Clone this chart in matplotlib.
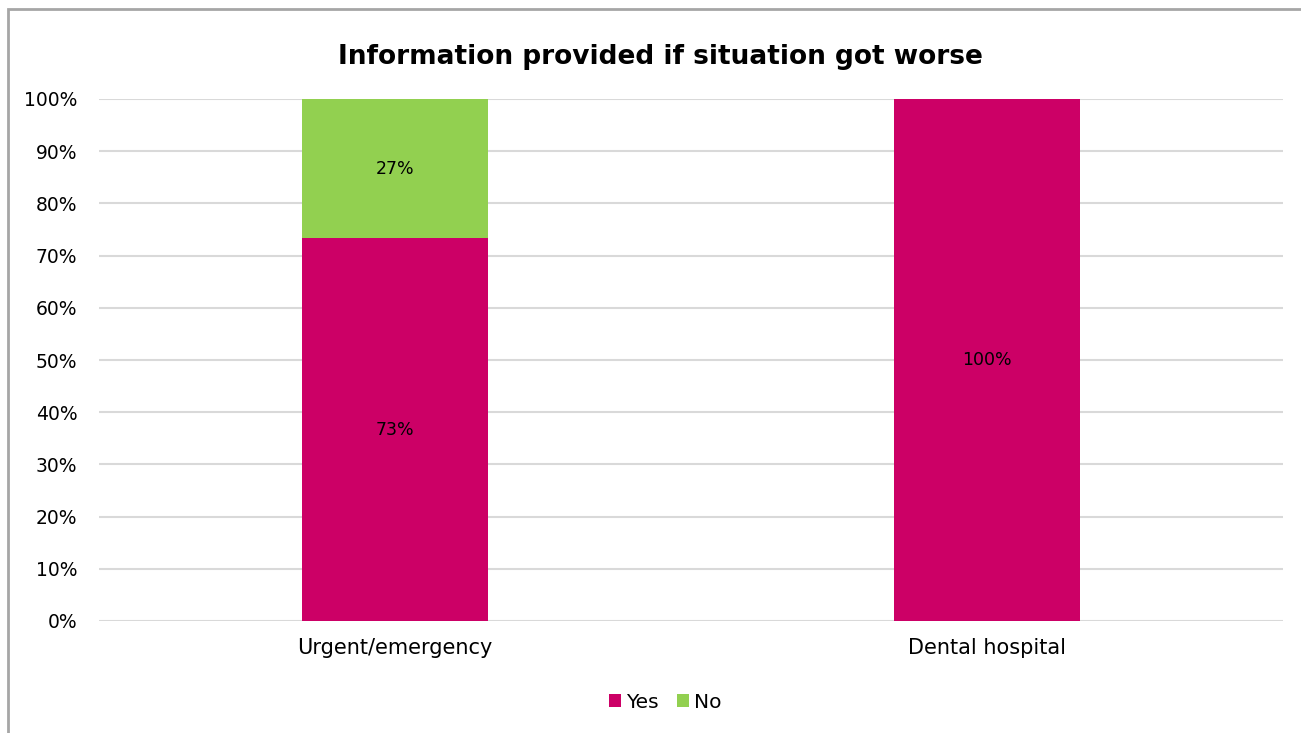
import matplotlib.pyplot as plt
from matplotlib.patches import Rectangle
from matplotlib.ticker import PercentFormatter

categories = ["Urgent/emergency", "Dental hospital"]
yes_values = [73.3, 100.0]
no_values = [26.7, 0.0]
series_names = ["Yes", "No"]
series_colors = ["#CC0066", "#92D050"]
title = "Information provided if situation got worse"

plt.rcParams["font.family"] = ["DejaVu Sans"]

fig = plt.figure(figsize=(13.01, 7.33), dpi=100)
ax = fig.add_axes([99 / 1301, 1 - 621 / 733, (1283 - 99) / 1301, (621 - 99) / 733])

# outer chart frame (runs off the right and bottom edges)
fig.add_artist(Rectangle((8 / 1301, -0.05), 1.2, 1 - 9 / 733 + 0.05,
                         transform=fig.transFigure, fill=False,
                         edgecolor="#A6A6A6", linewidth=2))

x = list(range(len(categories)))
width = 0.315
bars_yes = ax.bar(x, yes_values, width, color=series_colors[0], label=series_names[0], zorder=3)
bars_no = ax.bar(x, no_values, width, bottom=yes_values, color=series_colors[1],
                 label=series_names[1], zorder=3)

label_size = 12.5
for rect, v in zip(bars_yes, yes_values):
    if v > 0:
        ax.text(rect.get_x() + rect.get_width() / 2, rect.get_y() + v / 2, f"{v:.0f}%",
                ha="center", va="center", fontsize=label_size, color="black", zorder=4)
for rect, v, b in zip(bars_no, no_values, yes_values):
    if v > 0:
        ax.text(rect.get_x() + rect.get_width() / 2, b + v / 2, f"{v:.0f}%",
                ha="center", va="center", fontsize=label_size, color="black", zorder=4)

ax.set_xlim(-0.5, len(categories) - 0.5)
ax.set_ylim(0, 100)
ax.set_yticks(range(0, 101, 10))
ax.yaxis.set_major_formatter(PercentFormatter(decimals=0))
ax.set_xticks(x)
ax.set_xticklabels(categories)
ax.tick_params(axis="both", length=0, colors="black")
ax.tick_params(axis="x", pad=12, labelsize=15)
ax.tick_params(axis="y", pad=15.5, labelsize=13.5)
ax.grid(axis="y", color="#D9D9D9", linewidth=1.5, zorder=0)
for s in ax.spines.values():
    s.set_visible(False)

fig.text(660 / 1301, 1 - 57 / 733, title, ha="center", va="center",
         fontsize=19, fontweight="bold")

fig.legend(loc="center", bbox_to_anchor=(665 / 1301, 1 - 702 / 733), ncol=2,
           frameon=False, fontsize=14.5, handlelength=0.6, handleheight=0.6,
           handletextpad=0.25, columnspacing=0.9)

fig.savefig("out.png", dpi=100, facecolor="white")
